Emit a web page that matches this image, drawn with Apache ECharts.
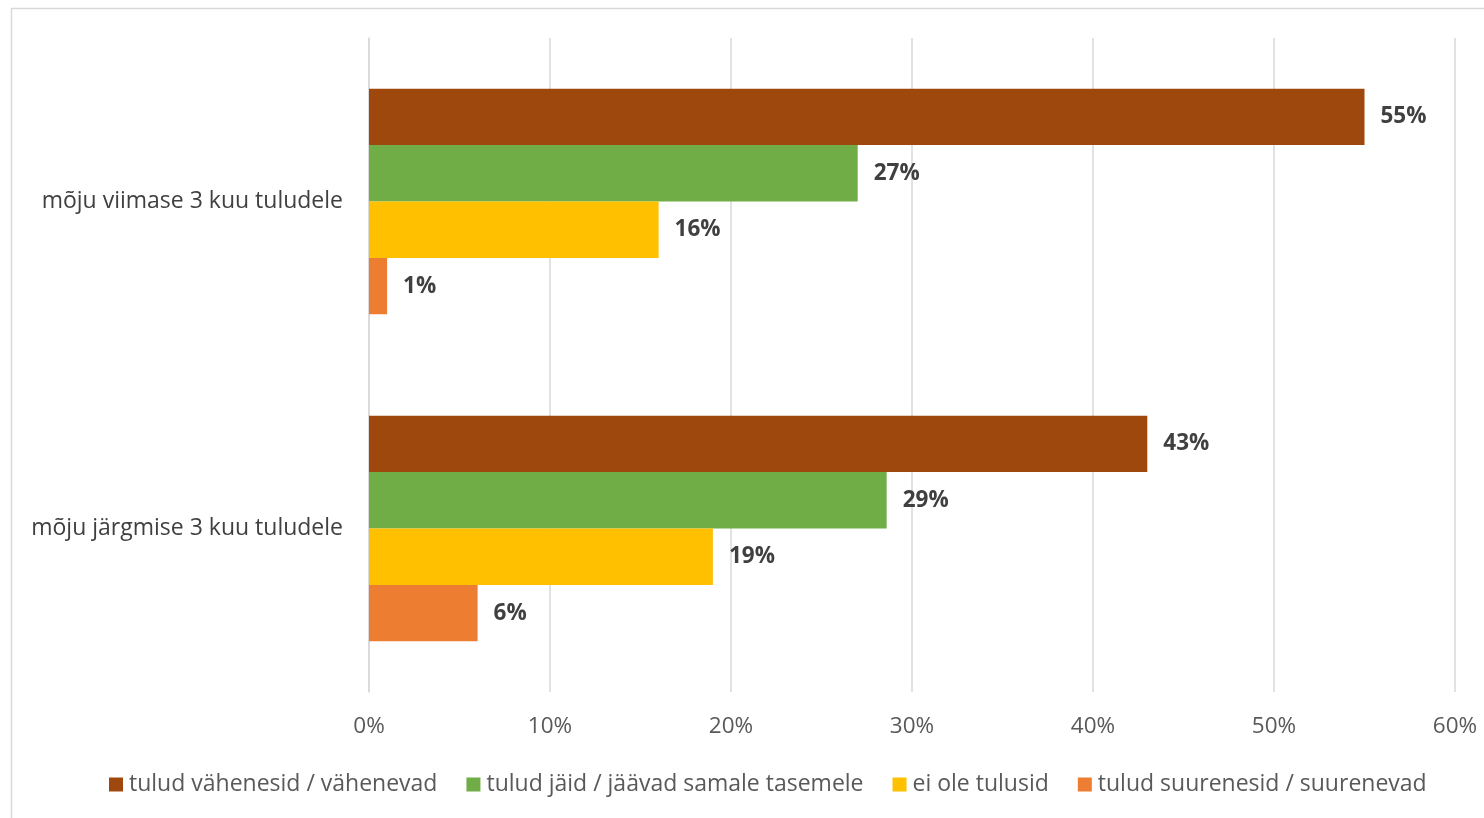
<!DOCTYPE html>
<html>
<head>
<meta charset="utf-8">
<script src="https://cdn.jsdelivr.net/npm/echarts@6/dist/echarts.min.js"></script>
<style>
html,body{margin:0;padding:0;background:#fff;}
#chart{width:1484px;height:818px;}
</style>
</head>
<body>
<div id="chart"></div>
<script>
const categories = ["mõju viimase 3 kuu tuludele", "mõju järgmise 3 kuu tuludele"];
const seriesNames = ["tulud vähenesid / vähenevad", "tulud jäid / jäävad samale tasemele", "ei ole tulusid", "tulud suurenesid / suurenevad"];
const decreased = [55, 43];
const same = [27, 28.6];
const noIncome = [16, 19];
const increased = [1, 6];
const xTicks = [0, 10, 20, 30, 40, 50, 60];
const colors = ["#9E480E", "#70AD47", "#FFC000", "#ED7D31"];

const FONT = "'Open Sans', Lato, sans-serif";
const dataSets = [decreased, same, noIncome, increased];

const chart = echarts.init(document.getElementById('chart'), null, {renderer: 'canvas'});
chart.setOption({
  animation: false,
  backgroundColor: '#fff',
  graphic: [{
    type: 'rect',
    shape: {x: 11.5, y: 8.5, width: 1490, height: 830},
    style: {fill: 'none', stroke: '#D9D9D9', lineWidth: 1.5},
    silent: true
  }],
  grid: {left: 369, right: 29, top: 38, bottom: 126, containLabel: false},
  legend: {
    data: seriesNames,
    bottom: 17,
    left: 104,
    icon: 'rect',
    itemWidth: 14,
    itemHeight: 14,
    itemGap: 29,
    textStyle: {fontFamily: FONT, fontSize: 23, color: '#595959', padding: [0, 0, 0, 1]}
  },
  xAxis: {
    type: 'value',
    min: xTicks[0],
    max: xTicks[xTicks.length - 1],
    interval: 10,
    axisLine: {show: false},
    axisTick: {show: false},
    splitLine: {show: true, lineStyle: {color: '#D9D9D9', width: 1.5}},
    axisLabel: {
      formatter: v => v + '%',
      fontFamily: FONT, fontSize: 22.5, color: '#595959', margin: 23
    }
  },
  yAxis: {
    type: 'category',
    data: categories,
    inverse: true,
    axisLine: {show: true, lineStyle: {color: '#D9D9D9', width: 1.5}},
    axisTick: {show: false},
    axisLabel: {fontFamily: FONT, fontSize: 23, color: '#404040', margin: 26}
  },
  series: seriesNames.map((name, i) => ({
    name: name,
    type: 'bar',
    data: dataSets[i],
    barGap: '0%',
    barCategoryGap: '31%',
    itemStyle: {color: colors[i]},
    label: {
      show: true,
      position: 'right',
      distance: 16,
      formatter: p => Math.round(p.value) + '%',
      fontFamily: FONT, fontSize: 22.5, fontWeight: 'bold', color: '#404040'
    }
  }))
});
</script>
</body>
</html>
